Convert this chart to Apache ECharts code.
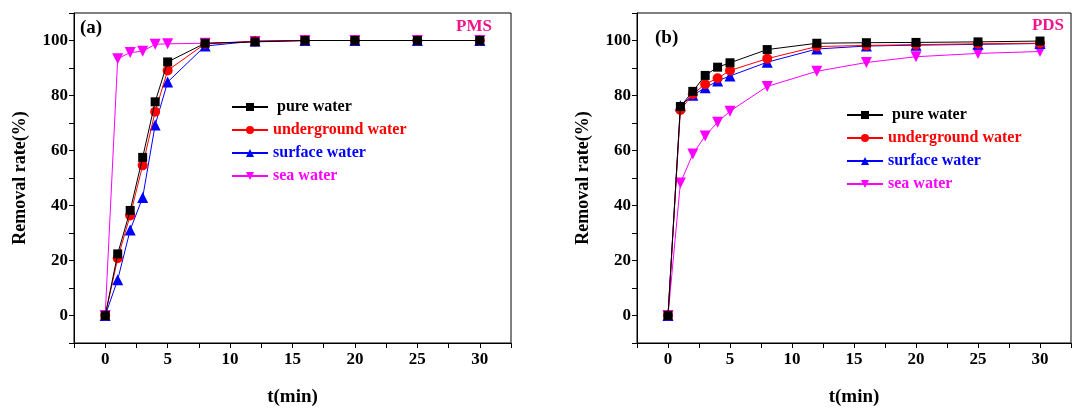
<!DOCTYPE html>
<html><head><meta charset="utf-8">
<script src="https://cdn.jsdelivr.net/npm/echarts@6/dist/echarts.min.js"></script>
<style>html,body{margin:0;padding:0;background:#fff}#c{width:1081px;height:412px}</style>
</head><body><div id="c"></div>
<script>
const times = [0, 1, 2, 3, 4, 5, 8, 12, 16, 20, 25, 30];
const seriesNames = ['pure water', 'underground water', 'surface water', 'sea water'];
const xTickLabels = [0, 5, 10, 15, 20, 25, 30];
const yTickLabels = [0, 20, 40, 60, 80, 100];
// Panel (a) PMS
const pmsPure = [0, 22.4, 38.2, 57.5, 77.7, 92.2, 99.0, 99.5, 100, 100, 100, 100];
const pmsUnder = [0, 20.8, 36.4, 54.6, 74.1, 89.1, 98.8, 99.7, 100, 100, 100, 100];
const pmsSurface = [0, 13.0, 31.1, 42.9, 69.3, 84.9, 98.0, 99.8, 100, 100, 100, 100];
const pmsSea = [0, 93.4, 95.6, 96.1, 98.6, 98.8, 99.0, 99.6, 100, 100, 100, 100];
// Panel (b) PDS
const pdsPure = [0, 76.0, 81.5, 87.3, 90.3, 91.9, 96.7, 99.0, 99.2, 99.3, 99.5, 99.8];
const pdsUnder = [0, 74.7, 80.5, 84.1, 86.3, 89.1, 93.4, 97.8, 98.2, 98.5, 98.8, 99.0];
const pdsSurface = [0, 76.3, 80.1, 82.8, 85.3, 87.1, 92.1, 96.9, 98.0, 98.3, 98.6, 98.9];
const pdsSea = [0, 48.2, 58.7, 65.3, 70.3, 74.3, 83.3, 88.8, 92.0, 94.1, 95.3, 96.0];

const colors = ['#000000', '#ff0000', '#0000ff', '#ff00ff'];
const symbols = ['rect', 'circle', 'triangle', 'triangle'];
const rotates = [0, 0, 0, 180];
const sizes = [9, 10, 11, 11];
const font = 'Liberation Serif';

const pair = arr => arr.map((v, i) => [times[i], v]);
const panels = [[pmsPure, pmsUnder, pmsSurface, pmsSea], [pdsPure, pdsUnder, pdsSurface, pdsSea]];

const series = [];
panels.forEach((p, gi) => {
  p.forEach((arr, si) => {
    series.push({
      name: seriesNames[si], type: 'line', xAxisIndex: gi, yAxisIndex: gi,
      data: pair(arr), symbol: symbols[si], symbolRotate: rotates[si], symbolSize: sizes[si],
      showAllSymbol: true, z: 10 - si,
      lineStyle: { color: colors[si], width: 1 },
      itemStyle: { color: colors[si] }
    });
  });
});

const grids = [
  { left: 74, right: 570, top: 13, bottom: 58 },
  { left: 637, right: 10, top: 13, bottom: 58 }
];
const xAxes = grids.map((g, i) => ({
  gridIndex: i, type: 'value', min: -2.5, max: 32.5, interval: 2.5,
  name: 't(min)', nameLocation: 'middle', nameGap: 45,
  nameTextStyle: { fontFamily: font, fontWeight: 'bold', fontSize: 19, color: '#000' },
  axisLine: { show: true, onZero: false, lineStyle: { color: '#000', width: 1 } },
  axisTick: { show: true, inside: false, length: 5, lineStyle: { color: '#000' } },
  splitLine: { show: false },
  axisLabel: { fontFamily: font, fontWeight: 'bold', fontSize: 17, color: '#000', margin: 8,
    formatter: v => xTickLabels.includes(v) ? String(v) : '' }
}));
const yAxes = grids.map((g, i) => ({
  gridIndex: i, type: 'value', min: -10, max: 110, interval: 10,
  name: 'Removal rate(%)', nameLocation: 'middle', nameGap: 45,
  nameTextStyle: { fontFamily: font, fontWeight: 'bold', fontSize: 18, color: '#000' },
  axisLine: { show: true, onZero: false, lineStyle: { color: '#000', width: 1 } },
  axisTick: { show: true, inside: false, length: 5, lineStyle: { color: '#000' } },
  splitLine: { show: false },
  axisLabel: { fontFamily: font, fontWeight: 'bold', fontSize: 17, color: '#000', margin: 6,
    formatter: v => yTickLabels.includes(v) ? String(v) : '' }
}));

const mkLegend = (left, top) => ({
  orient: 'vertical', left: left, top: top, itemWidth: 36, itemHeight: 10, itemGap: 7,
  textStyle: { fontFamily: font, fontWeight: 'bold', fontSize: 16 },
  formatter: n => n === 'pure water' ? ' pure water' : n,
  data: seriesNames.map((n, i) => ({ name: n, textStyle: { color: colors[i] } }))
});

const tStyle = (size, color) => ({ fontFamily: font, fontWeight: 'bold', fontSize: size, color: color });
const option = {
  backgroundColor: '#fff',
  animation: false,
  grid: grids.map(g => Object.assign({ show: true, borderColor: '#000', borderWidth: 1, backgroundColor: 'transparent' }, g)),
  xAxis: xAxes, yAxis: yAxes,
  legend: [mkLegend(226, 94), mkLegend(841, 102)],
  title: [
    { text: '(a)', left: 80, top: 19, padding: 0, textStyle: tStyle(19, '#000') },
    { text: 'PMS', right: 589, top: 18, padding: 0, textStyle: tStyle(17, '#f0168a') },
    { text: '(b)', left: 655, top: 29, padding: 0, textStyle: tStyle(19, '#000') },
    { text: 'PDS', right: 17, top: 17, padding: 0, textStyle: tStyle(17, '#f0168a') }
  ],
  series: series
};
const chart = echarts.init(document.getElementById('c'), null, { renderer: 'canvas' });
chart.setOption(option);
</script></body></html>
